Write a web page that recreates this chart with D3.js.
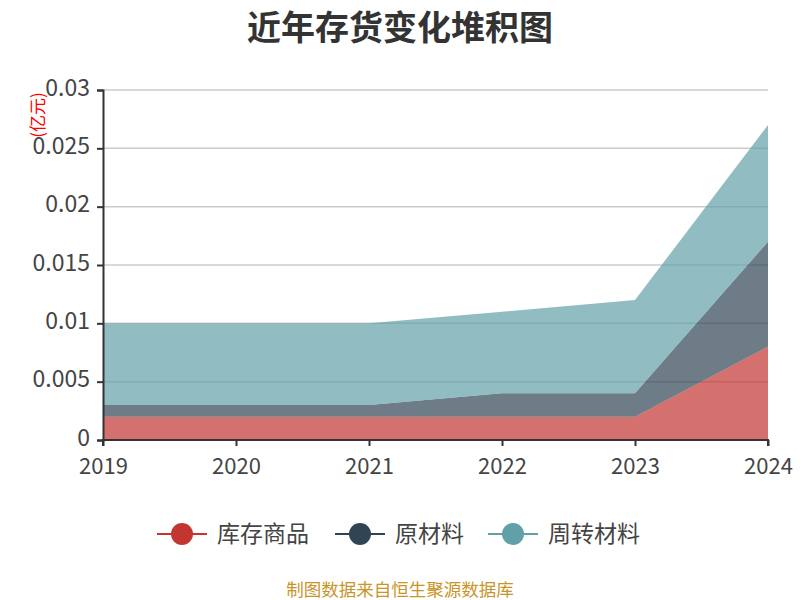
<!DOCTYPE html>
<html><head><meta charset="utf-8">
<script src="https://cdn.jsdelivr.net/npm/d3@7"></script>
<style>body{margin:0;background:#fff;font-family:"Noto Sans CJK SC","Noto Sans",sans-serif;}</style>
</head><body><svg id="c" width="800" height="600"></svg>
<script>
const years = ["2019","2020","2021","2022","2023","2024"];
const seriesNames = ["库存商品","原材料","周转材料"];
const kucun = [0.002,0.002,0.002,0.002,0.002,0.008];
const yuancailiao = [0.001,0.001,0.001,0.002,0.002,0.009];
const zhouzhuan = [0.007,0.007,0.007,0.007,0.008,0.010];
const yTicks = [0,0.005,0.01,0.015,0.02,0.025,0.03];
const yTickLabels = ["0","0.005","0.01","0.015","0.02","0.025","0.03"];
const colors = ["#c23531","#2f4554","#61a0a8"];

const svg = d3.select("#c");
const font = '"Noto Sans CJK SC","Noto Sans",sans-serif';
const L=103,R=768,T=90,B=440;
const x = d3.scalePoint().domain(years).range([L,R]);
const y = d3.scaleLinear().domain([0,0.03]).range([B,T]);

svg.append("text").attr("x",400).attr("y",40).attr("text-anchor","middle")
  .attr("font-size",34).attr("font-weight","bold").attr("fill","#333").attr("font-family",font).text("近年存货变化堆积图");

// grid
svg.append("g").selectAll("line").data(yTicks.slice(1)).join("line")
  .attr("x1",L).attr("x2",R).attr("y1",d=>y(d)).attr("y2",d=>y(d))
  .attr("stroke","#ccc").attr("stroke-width",1.5);

const rows = years.map((yr,i)=>({year:yr,a:kucun[i],b:yuancailiao[i],c:zhouzhuan[i]}));
const stack = d3.stack().keys(["a","b","c"])(rows);
const area = d3.area().x(d=>x(d.data.year)).y0(d=>y(d[0])).y1(d=>y(d[1]));
svg.append("g").selectAll("path").data(stack).join("path")
  .attr("d",area).attr("fill",(d,i)=>colors[i]).attr("fill-opacity",0.7);

// axes
const yAxis = d3.axisLeft(y).tickValues(yTicks).tickFormat((d,i)=>yTickLabels[i]).tickSize(6).tickPadding(7);
const gy = svg.append("g").attr("transform",`translate(${L},0)`).call(yAxis);
gy.select(".domain").attr("stroke","#333").attr("stroke-width",2);
gy.selectAll(".tick line").attr("stroke","#333").attr("stroke-width",2);
gy.selectAll("text").attr("font-size",23).attr("fill","#444").attr("font-family",font).attr("dy","0.22em");

const xAxis = d3.axisBottom(x).tickSize(6).tickPadding(12);
const gx = svg.append("g").attr("transform",`translate(0,${B})`).call(xAxis);
gx.select(".domain").attr("stroke","#333").attr("stroke-width",2).attr("d",`M${L},6V0H${R}V6`);
gx.selectAll(".tick line").attr("stroke","#333").attr("stroke-width",2);
gx.selectAll("text").attr("font-size",22).attr("fill","#444").attr("font-family",font);

svg.append("text").attr("transform","translate(44,115) rotate(-90)").attr("text-anchor","middle")
  .attr("font-size",17).attr("fill","red").attr("font-family",font).text("(亿元)");

// legend
const legX = [157,335,488];
const lg = svg.append("g").selectAll("g").data(seriesNames).join("g")
  .attr("transform",(d,i)=>`translate(${legX[i]},534)`);
lg.append("line").attr("x1",0).attr("x2",50).attr("stroke",(d,i)=>colors[i]).attr("stroke-width",2);
lg.append("circle").attr("cx",25).attr("r",11).attr("fill",(d,i)=>colors[i]);
lg.append("text").attr("x",60).attr("y",8).attr("font-size",23).attr("fill","#444").attr("font-family",font).text(d=>d);

svg.append("text").attr("x",400).attr("y",596).attr("text-anchor","middle")
  .attr("font-size",17.5).attr("fill","#c8952a").attr("font-family",font).text("制图数据来自恒生聚源数据库");
</script></body></html>
